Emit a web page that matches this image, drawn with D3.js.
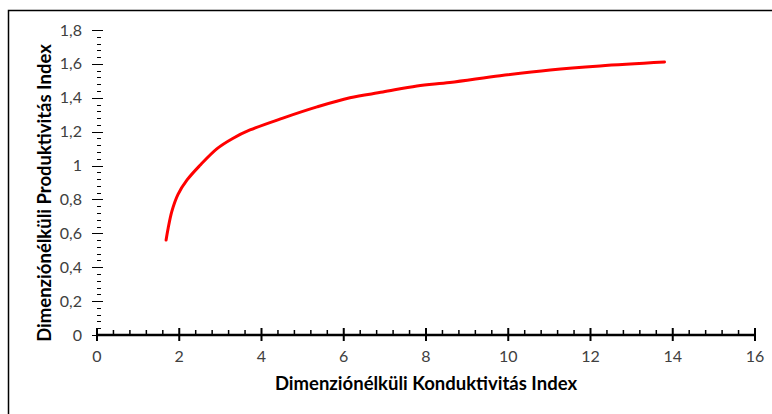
<!DOCTYPE html>
<html>
<head>
<meta charset="UTF-8">
<title></title>
<style>
  body { margin: 0; background: #fff; }
  svg text { font-family: Lato, 'Open Sans', sans-serif; }
  .tick-lbl { font-size: 16px; fill: #404040; }
  .ttl { font-size: 18.5px; font-weight: bold; fill: #000; }
</style>
</head>
<body>
<div id="container"></div>
<script src="https://d3js.org/d3.v7.min.js"></script>
<script>
  // curve
  var konduktivitas = [1.68, 1.73, 1.82, 1.97, 2.19, 2.5, 2.92, 3.3, 3.72, 4.52, 5.35, 6.15, 6.95, 7.78, 8.58, 9.8, 11.02, 12.23, 13.8];
  var produktivitas = [0.56, 0.63, 0.73, 0.83, 0.915, 1.0, 1.1, 1.16, 1.21, 1.28, 1.346, 1.4, 1.434, 1.47, 1.49, 1.53, 1.564, 1.588, 1.611];
  var xTicks = [0, 2, 4, 6, 8, 10, 12, 14, 16];
  var yTicks = [0, 0.2, 0.4, 0.6, 0.8, 1, 1.2, 1.4, 1.6, 1.8];

  var W = 772, H = 414;
  var svg = d3.select("#container").append("svg")
    .attr("width", W).attr("height", H);

  // chart frame (only top and left edges show)
  svg.append("path")
    .attr("d", "M8.5,414 V10.5 H772")
    .attr("fill", "none").attr("stroke", "#000").attr("stroke-width", 1.5);

  var x = d3.scaleLinear().domain([0, 16]).range([97, 755]);
  var y = d3.scaleLinear().domain([0, 1.8]).range([335, 30]);

  // y minor ticks (0.04)
  var yMinor = d3.range(0, 1.8001, 0.04).filter(function(v) { return Math.abs(v * 5 - Math.round(v * 5)) > 1e-6; });
  svg.append("g").selectAll("line").data(yMinor).enter().append("line")
    .attr("x1", 97).attr("x2", 101)
    .attr("y1", function(d) { return Math.round(y(d)) + 0.5; })
    .attr("y2", function(d) { return Math.round(y(d)) + 0.5; })
    .attr("stroke", "#000").attr("stroke-width", 1);

  // y major ticks
  svg.append("g").selectAll("line").data(yTicks).enter().append("line")
    .attr("x1", 92).attr("x2", 103)
    .attr("y1", function(d) { return Math.round(y(d)) + 0.5; })
    .attr("y2", function(d) { return Math.round(y(d)) + 0.5; })
    .attr("stroke", "#000").attr("stroke-width", 1);

  svg.append("g").selectAll("text").data(yTicks).enter().append("text")
    .attr("class", "tick-lbl")
    .attr("x", 82).attr("y", function(d) { return y(d); })
    .attr("dy", "0.35em").attr("text-anchor", "end")
    .text(function(d) { return d3.format(".1~f")(d).replace(".", ","); });

  // x axis line
  svg.append("line")
    .attr("x1", x(0)).attr("x2", x(16)).attr("y1", 335).attr("y2", 335)
    .attr("stroke", "#000").attr("stroke-width", 2.5);

  // x minor ticks (0.4)
  var xMinor = d3.range(0, 16.001, 0.4).filter(function(v) { return Math.abs(v / 2 - Math.round(v / 2)) > 1e-6; });
  svg.append("g").selectAll("line").data(xMinor).enter().append("line")
    .attr("x1", function(d) { return x(d); }).attr("x2", function(d) { return x(d); })
    .attr("y1", 330).attr("y2", 335)
    .attr("stroke", "#000").attr("stroke-width", 1.5);

  // x major ticks
  svg.append("g").selectAll("line").data(xTicks).enter().append("line")
    .attr("x1", function(d) { return x(d); }).attr("x2", function(d) { return x(d); })
    .attr("y1", 328).attr("y2", 341)
    .attr("stroke", "#000").attr("stroke-width", 2);

  svg.append("g").selectAll("text").data(xTicks).enter().append("text")
    .attr("class", "tick-lbl")
    .attr("x", function(d) { return x(d); }).attr("y", 362)
    .attr("text-anchor", "middle")
    .text(function(d) { return d; });

  // axis titles
  svg.append("text").attr("class", "ttl")
    .attr("x", 426).attr("y", 390).attr("text-anchor", "middle")
    .text("Dimenziónélküli Konduktivitás Index");

  svg.append("text").attr("class", "ttl")
    .attr("transform", "translate(51,193) rotate(-90)")
    .attr("text-anchor", "middle")
    .text("Dimenziónélküli Produktivitás Index");

  // curve
  var pts = konduktivitas.map(function(k, i) { return [k, produktivitas[i]]; });
  var line = d3.line()
    .x(function(d) { return x(d[0]); })
    .y(function(d) { return y(d[1]); })
    .curve(d3.curveCatmullRom.alpha(0.5));

  svg.append("path").datum(pts)
    .attr("d", line)
    .attr("fill", "none")
    .attr("stroke", "#ff0000")
    .attr("stroke-width", 3)
    .attr("stroke-linecap", "round");
</script>
</body>
</html>
